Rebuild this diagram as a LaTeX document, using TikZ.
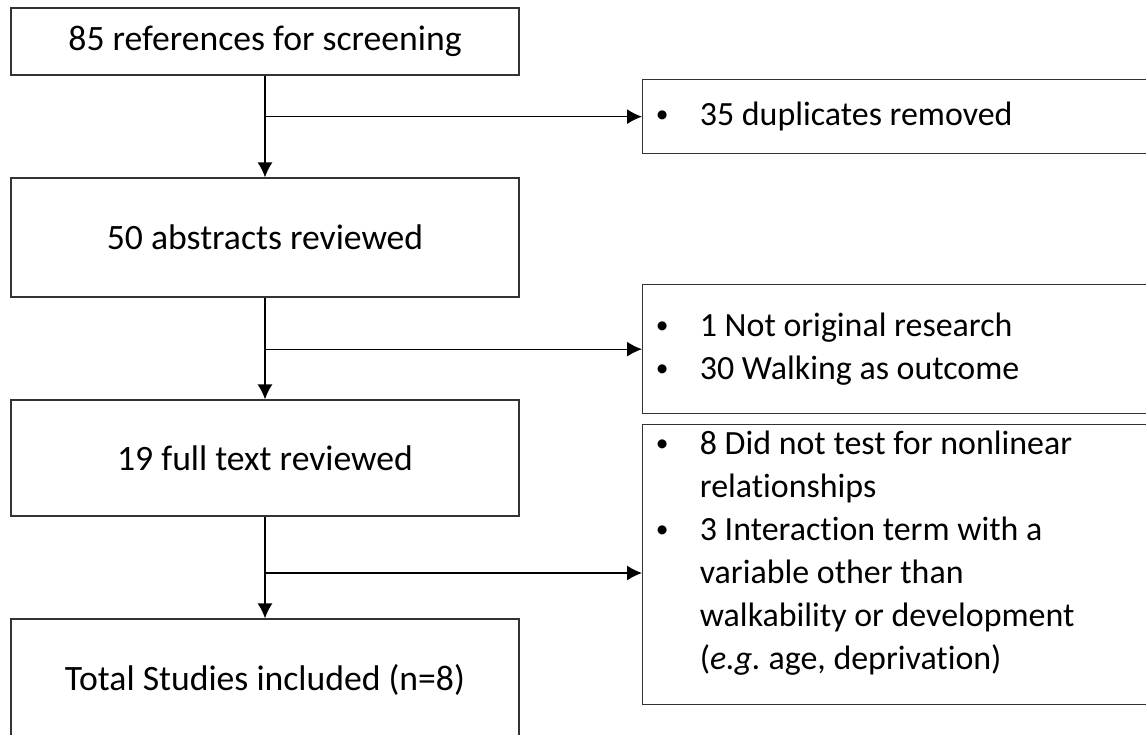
\documentclass[tikz,border=0pt]{standalone}
\usepackage{fontspec}
\setmainfont{Carlito}[Ligatures=NoCommon]
\usetikzlibrary{arrows.meta}
\newcommand{\bul}{\raisebox{0.08em}{\scalebox{0.75}{\textbullet}}}
\begin{document}
\begin{tikzpicture}[
  lbox/.style={draw=black!80, line width=0.75pt, minimum width=10.16cm, inner sep=0pt, font=\fontsize{20.3}{25}\selectfont},
  rbox/.style={draw=black!80, line width=0.75pt, minimum width=10.5cm, inner sep=0pt, anchor=north west},
  rtext/.style={inner sep=0pt, align=left, font=\fontsize{19.3}{24.5}\selectfont},
  flow/.style={-{Latex[length=8.5pt,width=8.5pt]}, line width=0.75pt}]
\useasboundingbox (0,0) rectangle (22.92,-14.68);
\clip (0,0) rectangle (22.92,-14.68);
% left column
\node[lbox, minimum height=1.34cm] (refs) at (5.30,-0.83) {85 references for screening};
\node[lbox, minimum height=2.38cm] (abs) at (5.30,-4.75) {50 abstracts reviewed};
\node[lbox, minimum height=2.32cm] (full) at (5.30,-9.16) {19 full text reviewed};
\node[lbox, minimum height=2.44cm] (incl) at (5.30,-13.60) {Total Studies included (n=8)};
% right column, boxes run off the page
\node[rbox, minimum height=1.48cm] (dup) at (12.84,-1.58) {};
\node[rbox, minimum height=2.58cm] (excl) at (12.84,-5.68) {};
\node[rbox, minimum height=5.60cm] (nlin) at (12.84,-8.48) {};
\node[rtext, anchor=west] (duptxt) at ([xshift=0.27cm]dup.west)
  {\begin{tabular}{@{}p{0.88cm}@{}l@{}}
   \bul & 35 duplicates removed
   \end{tabular}};
\node[rtext, anchor=west] (excltxt) at ([xshift=0.27cm]excl.west)
  {\begin{tabular}{@{}p{0.88cm}@{}l@{}}
   \bul & 1 Not original research\\
   \bul & 30 Walking as outcome
   \end{tabular}};
\node[rtext, anchor=north west] (nlintxt) at ([xshift=0.27cm]nlin.north west)
  {\begin{tabular}[t]{@{}p{0.88cm}@{}l@{}}
   \bul & 8 Did not test for nonlinear\\
        & relationships\\
   \bul & 3 Interaction term with a\\
        & variable other than\\
        & walkability or development\\
        & (\textit{e.g.}\ age, deprivation)
   \end{tabular}};
\coordinate (nlinin) at (12.84,-11.46); % arrow meets the tall box here
% connectors
\draw[flow] (refs.south) -- (abs.north);
\draw[flow] (refs.south |- dup.west) -- (dup.west);
\draw[flow] (abs.south) -- (full.north);
\draw[flow] (abs.south |- excl.west) -- (excl.west);
\draw[flow] (full.south) -- (incl.north);
\draw[flow] (full.south |- nlinin) -- (nlinin);
\end{tikzpicture}
\end{document}
